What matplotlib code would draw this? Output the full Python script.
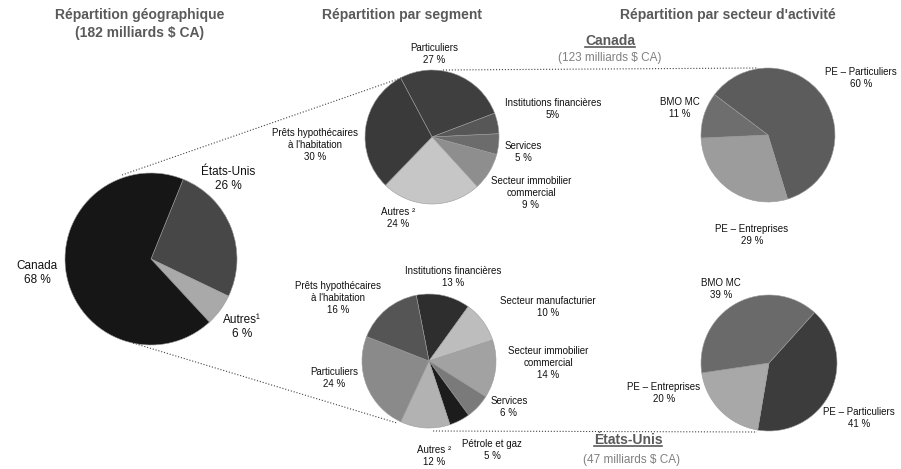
import matplotlib
matplotlib.use("Agg")
import matplotlib.pyplot as plt
from matplotlib.lines import Line2D

plt.rcParams['font.family'] = ['Liberation Sans', 'DejaVu Sans']

# --- data ---
geo_labels = ["États-Unis\n26 %", "Autres¹\n6 %", "Canada\n68 %"]
geo_values = [26, 6, 68]

ca_seg_labels = ["Particuliers\n27 %", "Institutions financières\n5%", "Services\n5 %",
                 "Secteur immobilier\ncommercial\n9 %", "Autres ²\n24 %",
                 "Prêts hypothécaires\nà l'habitation\n30 %"]
ca_seg_values = [27, 5, 5, 9, 24, 30]

us_seg_labels = ["Institutions financières\n13 %", "Secteur manufacturier\n10 %",
                 "Secteur immobilier\ncommercial\n14 %", "Services\n6 %", "Pétrole et gaz\n5 %",
                 "Autres ²\n12 %", "Particuliers\n24 %", "Prêts hypothécaires\nà l'habitation\n16 %"]
us_seg_values = [13, 10, 14, 6, 5, 12, 24, 16]

ca_sect_labels = ["PE – Particuliers\n60 %", "PE – Entreprises\n29 %", "BMO MC\n11 %"]
ca_sect_values = [60, 29, 11]

us_sect_labels = ["PE – Particuliers\n41 %", "PE – Entreprises\n20 %", "BMO MC\n39 %"]
us_sect_values = [41, 20, 39]

# --- styling / layout (pixel coordinates, y from top) ---
W, H = 901, 469
fig = plt.figure(figsize=(W / 100, H / 100), dpi=100)
ax = fig.add_axes([0, 0, 1, 1])
ax.set_xlim(0, W)
ax.set_ylim(0, H)
ax.axis('off')


def Y(py):
    return H - py


def draw_pie(values, labels, colors, center, radius, start, label_pos, fs):
    ax.pie(values, colors=colors, center=(center[0], Y(center[1])), radius=radius,
           startangle=start, counterclock=False, frame=True,
           wedgeprops=dict(edgecolor='#9a9a9a', linewidth=0.4))
    for lab, (lx, ly) in zip(labels, label_pos):
        ax.text(lx, Y(ly), lab, ha='center', va='top', fontsize=fs,
                color='#111111', linespacing=1.25)


draw_pie(geo_values, geo_labels, ['#474747', '#a9a9a9', '#161616'],
         (151, 259), 86, 68,
         [(228, 166), (242, 314), (37, 260)], 8.5)

draw_pie(ca_seg_values, ca_seg_labels,
         ['#3f3f3f', '#575757', '#6c6c6c', '#8e8e8e', '#c6c6c6', '#3a3a3a'],
         (432, 137), 67, 118,
         [(434, 43), (553, 98), (523, 141), (531, 176), (398, 207), (315, 128)], 7)

draw_pie(us_seg_values, us_seg_labels,
         ['#2e2e2e', '#bdbdbd', '#a2a2a2', '#7a7a7a', '#1c1c1c', '#b2b2b2', '#8a8a8a', '#555555'],
         (429, 361), 67, 101,
         [(453, 266), (548, 296), (548, 346), (509, 396), (492, 439), (434, 445),
          (334, 367), (338, 281)], 7)

draw_pie(ca_sect_values, ca_sect_labels, ['#5c5c5c', '#9c9c9c', '#6e6e6e'],
         (768, 135), 67, 143,
         [(861, 67), (752, 224), (680, 97)], 7)

draw_pie(us_sect_values, us_sect_labels, ['#3c3c3c', '#a8a8a8', '#6a6a6a'],
         (769, 363), 68, 48,
         [(859, 407), (664, 382), (721, 278)], 7)

ax.set_xlim(0, W)
ax.set_ylim(0, H)
ax.set_aspect('equal')

# connector lines
dotted = dict(color='#444444', linestyle=':', linewidth=0.8)
for (x1, y1), (x2, y2) in [((122, 175), (401, 78)), ((443, 70), (758, 68)),
                           ((133, 343), (397, 423)), ((433, 431), (757, 432))]:
    ax.add_line(Line2D([x1, x2], [Y(y1), Y(y2)], **dotted))

# headers
hdr = dict(ha='center', va='center', fontsize=10, fontweight='bold', color='#5a5a5a')
ax.text(140, Y(15), "Répartition géographique", **hdr)
ax.text(140, Y(33), "(182 milliards $ CA)", **hdr)
ax.text(402, Y(15), "Répartition par segment", **hdr)
ax.text(728, Y(15), "Répartition par secteur d'activité", **hdr)

sub_titles = []
sub_titles.append(ax.text(610, Y(41), "Canada", **hdr))
ax.text(610, Y(58), "(123 milliards $ CA)", ha='center', va='center', fontsize=8.5, color='#808080')
sub_titles.append(ax.text(628, Y(440), "États-Unis", **hdr))
ax.text(632, Y(460), "(47 milliards $ CA)", ha='center', va='center', fontsize=8.5, color='#808080')

# underline the region titles
fig.canvas.draw()
rend = fig.canvas.get_renderer()
for t in sub_titles:
    bb = t.get_window_extent(rend)
    fig.add_artist(Line2D([bb.x0, bb.x1], [bb.y0 + 1, bb.y0 + 1], color='#5a5a5a',
                          linewidth=1.2, transform=None))

fig.savefig("out.png", dpi=100)
